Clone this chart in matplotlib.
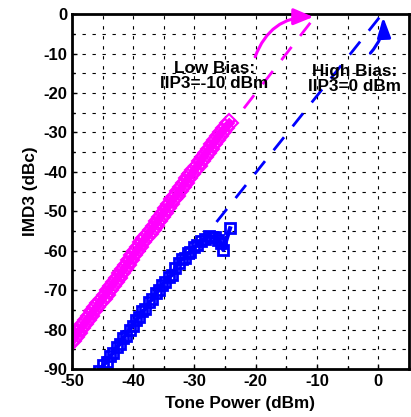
import numpy as np
import matplotlib
matplotlib.use("Agg")
import matplotlib.pyplot as plt
from matplotlib.ticker import MultipleLocator

plt.rcParams['font.family'] = ['Liberation Sans', 'DejaVu Sans']
plt.rcParams['font.weight'] = 'bold'
plt.rcParams['axes.unicode_minus'] = False

# low bias measurement (magenta diamonds)
low_p = [-50, -49.5, -49, -48.5, -48, -47.5, -47, -46.5, -46, -45.5, -45, -44.5,
         -44, -43.5, -43, -42.5, -42, -41.5, -41, -40.5, -40, -39.5, -39, -38.5,
         -38, -37.5, -37, -36.5, -36, -35.5, -35, -34.5, -34, -33.5, -33, -32.5,
         -32, -31.5, -31, -30.5, -30, -29.5, -29, -28.5, -28, -27.5, -27, -26.5,
         -26, -25.5, -25, -24.3]
low_imd = [-83.0, -81.9, -80.8, -79.7, -78.6, -77.5, -76.5, -75.4, -74.3, -73.2,
           -72.2, -71.1, -70.0, -68.9, -67.9, -66.8, -65.7, -64.6, -63.5, -62.3,
           -61.2, -60.1, -59.0, -57.9, -56.8, -55.8, -54.7, -53.6, -52.5, -51.4,
           -50.3, -49.2, -48.1, -47.0, -46.0, -44.9, -43.8, -42.7, -41.6, -40.6,
           -39.5, -38.4, -37.3, -36.2, -35.1, -34.1, -33.0, -31.9, -30.8, -29.8,
           -28.9, -27.7]

# high bias measurement (blue squares)
high_p = [-45.5, -44.9, -44.3, -43.8, -43.3, -42.7, -42.2, -41.7, -41.2, -40.6,
          -40.1, -39.5, -39.0, -38.5, -38.0, -37.4, -36.9, -36.3, -35.8, -35.3,
          -34.8, -34.2, -33.7, -33.1, -32.6, -32.1, -31.6, -31.1, -30.7, -30.1,
          -29.6, -28.9, -28.3, -27.7, -27.2, -26.6, -26.1, -25.7, -25.3, -24.2]
high_imd = [-90.5, -89.0, -88.2, -86.8, -86.0, -84.5, -83.7, -82.2, -81.5, -80.0,
            -79.2, -77.6, -76.8, -75.4, -74.7, -73.1, -72.3, -70.8, -70.0, -68.6,
            -67.8, -66.6, -66.2, -64.3, -63.2, -62.2, -61.8, -60.6, -60.3, -59.0,
            -58.6, -57.4, -56.9, -56.3, -56.5, -56.5, -57.3, -58.0, -59.8, -54.3]

# extrapolated IIP3 lines
low_fit_p = [-25.0, -10.0]
low_fit_imd = [-30.0, 0.0]
high_fit_p = [-26.4, 0.6]
high_fit_imd = [-52.7, 0.0]

magenta = '#ff00ff'
blue = '#0000ff'

fig = plt.figure(figsize=(4.11, 4.17), dpi=100)
ax = fig.add_axes([0.175, 0.115, 0.82, 0.851])

ax.plot(low_p, low_imd, color=magenta, lw=6, marker='D', ms=9,
        mfc='none', mec=magenta, mew=1.5)
ax.plot(high_p, high_imd, color=blue, lw=3, marker='s', ms=7,
        mfc='none', mec=blue, mew=2)
ax.plot(low_fit_p, low_fit_imd, color=magenta, lw=2, dashes=(6, 5))
ax.plot(high_fit_p, high_fit_imd, color=blue, lw=2, dashes=(6, 5))

ax.annotate('', xy=(-10.6, -0.7), xytext=(-20.1, -10.8),
            arrowprops=dict(arrowstyle='-|>,head_length=1.2,head_width=0.5',
                            color=magenta, lw=2.2, shrinkA=0, shrinkB=0,
                            connectionstyle='arc3,rad=-0.35'))
ax.annotate('', xy=(0.8, -0.7), xytext=(-1.3, -9.9),
            arrowprops=dict(arrowstyle='-|>,head_length=1.2,head_width=0.4',
                            color=blue, lw=2.2, shrinkA=0, shrinkB=0,
                            connectionstyle='arc3,rad=0.2'))

ax.text(-26.8, -15.8, 'Low Bias:\nIIP3=-10 dBm', ha='center', va='center',
        fontsize=12.3, fontweight='bold', linespacing=1.0)
ax.text(-3.9, -16.4, 'High Bias:\nIIP3=0 dBm', ha='center', va='center',
        fontsize=12.3, fontweight='bold', linespacing=1.0)

ax.set_xlim(-50, 5)
ax.set_ylim(-90, 0)
ax.xaxis.set_major_locator(MultipleLocator(10))
ax.xaxis.set_minor_locator(MultipleLocator(5))
ax.yaxis.set_major_locator(MultipleLocator(10))
ax.yaxis.set_minor_locator(MultipleLocator(5))
ax.grid(True, which='both', color='black', lw=0.8, dashes=(3, 6))
ax.tick_params(which='both', direction='in', labelsize=12, width=1)
for lab in ax.get_xticklabels() + ax.get_yticklabels():
    lab.set_fontweight('bold')
for sp in ax.spines.values():
    sp.set_linewidth(2)

ax.set_xlabel('Tone Power (dBm)', fontsize=12.3, fontweight='bold', labelpad=5)
ax.set_ylabel('IMD3 (dBc)', fontsize=12.3, fontweight='bold', labelpad=4)

fig.savefig('out.png', dpi=100)
